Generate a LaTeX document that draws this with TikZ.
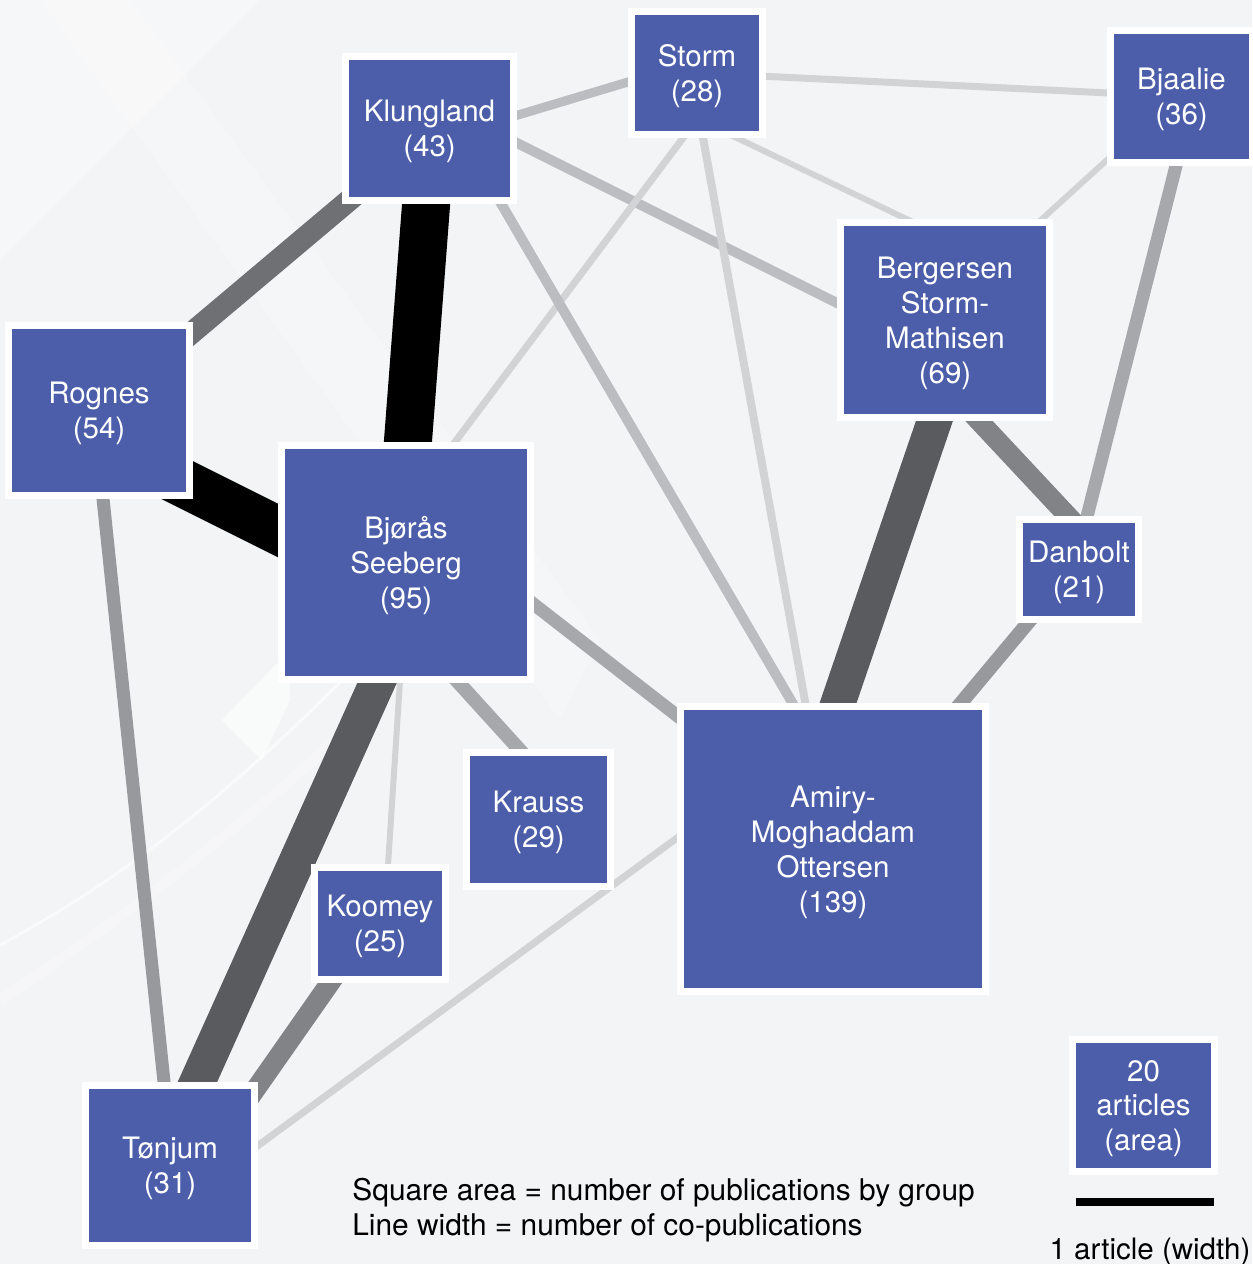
\documentclass[tikz,border=0pt]{standalone}
\usepackage{fontspec}
\setmainfont{TeX Gyre Heros}
\usetikzlibrary{calc,backgrounds}

\definecolor{grpblue}{RGB}{76,94,170}
\definecolor{fundo}{RGB}{243,244,246}
\definecolor{lkA}{RGB}{90,91,94}
\definecolor{lkB}{RGB}{111,112,115}
\definecolor{lkC}{RGB}{130,131,134}
\definecolor{lkD}{RGB}{152,153,156}
\definecolor{lkE}{RGB}{167,168,171}
\definecolor{lkF}{RGB}{188,189,192}
\definecolor{lkG}{RGB}{210,211,213}

\tikzset{
  grupo/.style={rectangle,fill=grpblue,draw=white,line width=7*0.02cm,
    text=white,align=center,inner sep=0pt,text depth=0pt,
    font=\fontsize{16.8}{19.9}\selectfont},
  sq/.style 2 args={grupo,minimum width={(#1+7)*0.02cm},minimum height={(#2+7)*0.02cm}},
  lk/.style 2 args={draw=#1,line width={#2*0.02cm}},
}

\begin{document}
\begin{tikzpicture}[x=0.02cm,y=-0.02cm]

\useasboundingbox (0,0) rectangle (1252,1264);

%---------------------------
% grupos (lado = raiz da area)
%---------------------------
\node[sq={124}{116}] (storm)     at (697,73)     {Storm\\(28)};
\node[sq={161}{137}] (klungland) at (429.5,128.5) {Klungland\\(43)};
\node[sq={135}{125}] (bjaalie)   at (1181.5,96.5) {Bjaalie\\(36)};
\node[sq={202}{188}] (bergersen) at (945,320)    {Bergersen\\Storm-\\Mathisen\\(69)};
\node[sq={174}{163}] (rognes)    at (99,410.5)   {Rognes\\(54)};
\node[sq={242}{227}] (bjoras)    at (406,562.5)  {Bjørås\\Seeberg\\(95)};
\node[sq={112}{93}]  (danbolt)   at (1079,569.5) {Danbolt\\(21)};
\node[sq={137}{127}] (krauss)    at (538.5,819.5) {Krauss\\(29)};
\node[sq={298}{278}] (amiry)     at (833,849)    {Amiry-\\Moghaddam\\Ottersen\\(139)};
\node[sq={124}{105}] (koomey)    at (380,923.5)  {Koomey\\(25)};
\node[sq={162}{153}] (tonjum)    at (170,1165.5) {Tønjum\\(31)};

%---------------------------
% legenda
%---------------------------
\node[sq={135}{125}] (escala) at (1143.5,1105.5) {20\\articles\\(area)};
\coordinate (escA) at (1076,1202);
\coordinate (escB) at (1214,1202);
\draw[line width=8*0.02cm] (escA) -- (escB);
\node[font=\fontsize{16.8}{19.9}\selectfont,inner sep=0pt] (escTxt) at (1150,1252) {1 article (width)};
\node[font=\fontsize{17}{19.9}\selectfont,inner sep=0pt,align=left,anchor=west] (nota) at (352,1210.5)
  {Square area = number of publications by group\\Line width = number of co-publications};

\begin{scope}[on background layer]
%---------------------------
% fundo
%---------------------------
\fill[fundo] (0,0) rectangle (1252,1264);
\fill[white,opacity=0.2] (40,0) -- (130,0) -- (600,640) -- (560,720) -- cycle;
\fill[white,opacity=0.3] (0,0) -- (260,0) -- (0,260) -- cycle;
\fill[white,opacity=0.55] (222,720) -- (262,760) -- (290,700) -- (290,650) -- cycle;
\draw[white,line width=3*0.02cm,opacity=0.6] (0,945) .. controls (140,870) and (260,770) .. (420,600);
\draw[white,line width=10*0.02cm,opacity=0.25] (0,1000) .. controls (150,900) and (280,800) .. (440,640);

%---------------------------
% co-publicacoes
%---------------------------
\draw[lk={lkF}{9}]  ($(klungland)+(20.5,6.9)$) -- ($(storm)+(-7,-9.6)$);
\draw[lk={lkG}{7}]  (storm) -- (bjaalie);
\draw[lk={lkF}{10}] ($(klungland)+(20.5,-19)$) -- ($(bergersen)+(-15,29.5)$);
\draw[lk={lkG}{6}]  ($(storm)+(3,47.4)$) -- ($(bergersen)+(-5,-85)$);
\draw[lk={lkG}{6}]  ($(bjaalie)+(-44.5,36.2)$) -- ($(bergersen)+(75,-81)$);
\draw[lk={lkE}{13}] ($(bjaalie)+(3.6,33.5)$) -- ($(danbolt)+(-3,-9.5)$);
\draw[lk={lkC}{20}] ($(bergersen)+(5,70)$) -- ($(danbolt)+(16,-24.5)$);
\draw[lk={lkA}{35}] ($(bergersen)+(0,70)$) -- ($(amiry)+(-7.6,-109)$);
\draw[lk={lkD}{14}] ($(danbolt)+(-32,30.5)$) -- ($(amiry)+(97,-109)$);
\draw[lk={lkB}{22}] ($(klungland)+(-44.5,41.5)$) -- ($(rognes)+(48.6,-40.5)$);
\draw[lk={black}{48}] ($(klungland)+(-0.8,41.5)$) -- ($(bjoras)+(-1,-82.5)$);
\draw[lk={black}{48}] ($(rognes)+(31,46)$) -- ($(bjoras)+(-86,-11)$);
\draw[lk={lkD}{13}] ($(rognes)+(1,59.5)$) -- ($(tonjum)+(-2,-45.5)$);
\draw[lk={lkE}{13}] ($(bjoras)+(94,15.5)$) -- ($(amiry)+(-113,-100)$);
\draw[lk={lkE}{14}] ($(bjoras)+(23,87.5)$) -- ($(krauss)+(8.5,-39.5)$);
\draw[lk={lkG}{6}]  ($(bjoras)+(-4,87.5)$) -- ($(koomey)+(6.4,-33.5)$);
\draw[lk={lkA}{36}] ($(bjoras)+(-9.6,77.5)$) -- ($(tonjum)+(10.3,-45.5)$);
\draw[lk={lkC}{20}] ($(koomey)+(-27,26.5)$) -- ($(tonjum)+(64,-45.5)$);
\draw[lk={lkG}{7}]  ($(tonjum)+(50,8)$) -- ($(amiry)+(-113,-42.6)$);
\draw[lk={lkG}{7}]  ($(storm)+(7,37)$) -- ($(bjoras)+(20.5,-82.5)$);
\draw[lk={lkG}{8}]  ($(storm)+(1,37)$) -- ($(amiry)+(-21,-109)$);
\draw[lk={lkF}{10}] ($(klungland)+(52,41.5)$) -- ($(amiry)+(-19,-109)$);
\end{scope}

\end{tikzpicture}
\end{document}
